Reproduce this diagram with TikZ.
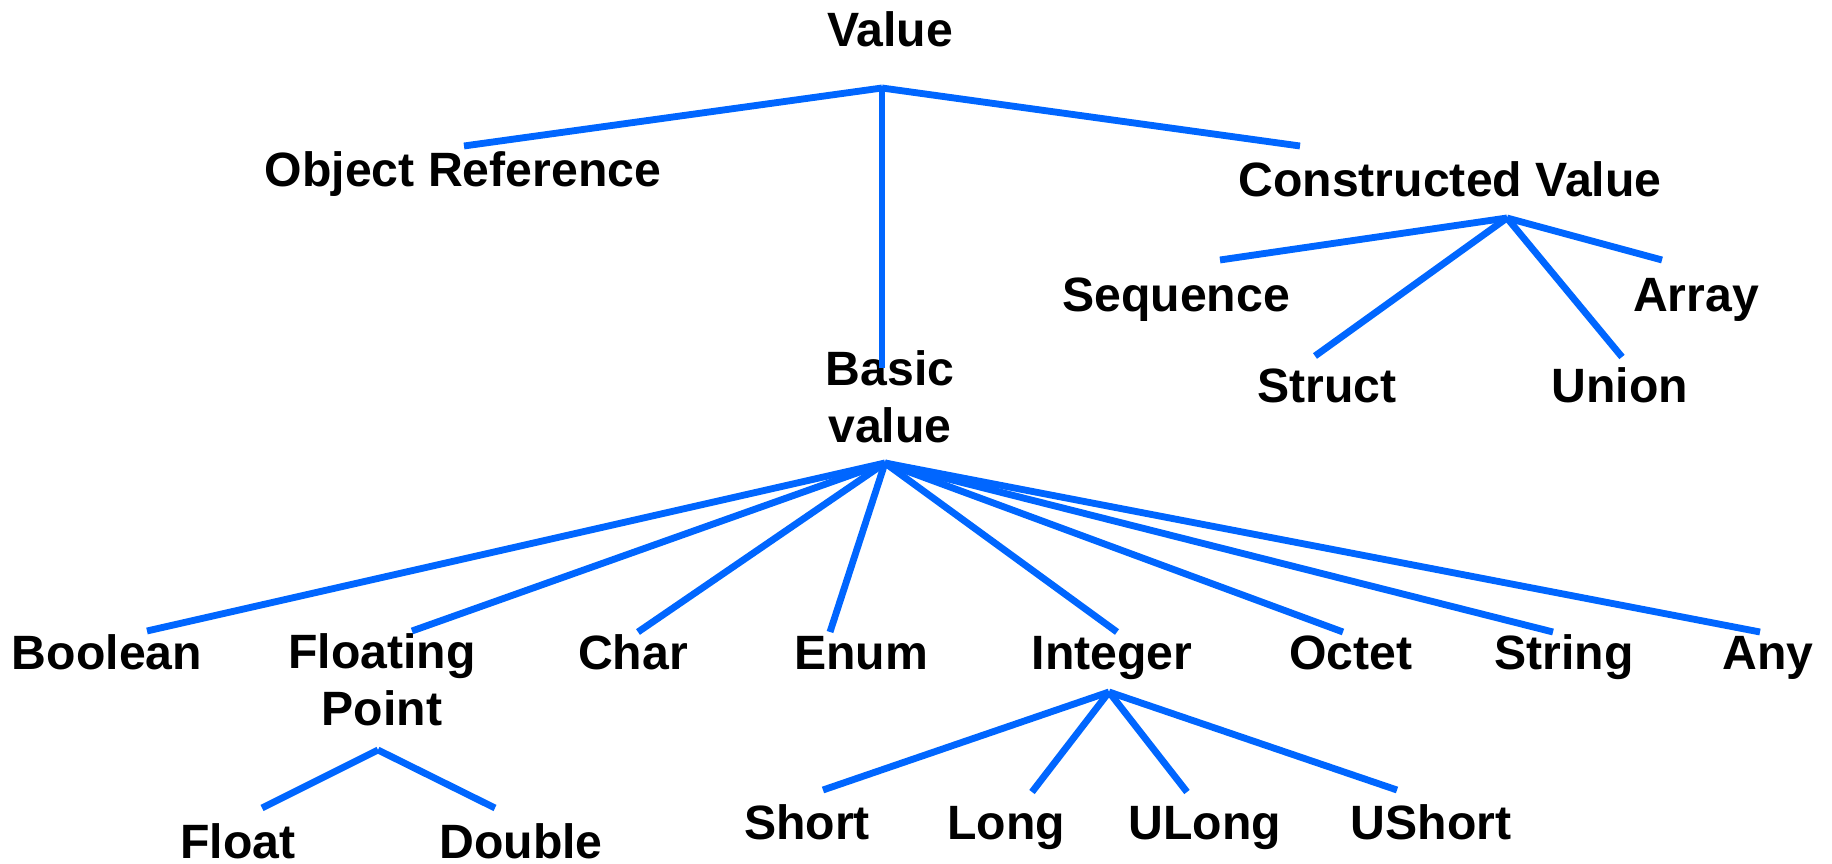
\documentclass[tikz,border=0pt]{standalone}
\usepackage{fontspec}
\setmainfont{Liberation Sans}
\definecolor{linkblue}{HTML}{0066FF}
\begin{document}
\begin{tikzpicture}[x=0.01cm,y=-0.01cm,
  lbl/.style={font=\bfseries\fontsize{13.7}{16.3}\selectfont, text=black, inner sep=0pt, align=center},
  one/.style={lbl, anchor=base},
  link/.style={draw=linkblue, line width=1.95pt}]
\useasboundingbox (0,0) rectangle (1832,864);

% labels (single-line ones placed by their baseline)
\node[one] (value) at (890,47) {Value};
\node[one] (objref) at (463,187) {Object Reference};
\node[one] (constr) at (1450,197) {Constructed Value};
\node[lbl] (basic) at (890,397) {Basic\\value};
\node[one] (seq) at (1176,312) {Sequence};
\node[one] (array) at (1696,312) {Array};
\node[one] (struct) at (1327,403) {Struct};
\node[one] (union) at (1620,403) {Union};
\node[one] (bool) at (107,670) {Boolean};
\node[lbl] (fp) at (382,680) {Floating\\Point};
\node[one] (char) at (633,670) {Char};
\node[one] (enum) at (861,670) {Enum};
\node[one] (int) at (1112,670) {Integer};
\node[one] (octet) at (1351,670) {Octet};
\node[one] (string) at (1564,670) {String};
\node[one] (any) at (1768,670) {Any};
\node[one] (float) at (238,859) {Float};
\node[one] (double) at (521,859) {Double};
\node[one] (short) at (807,840) {Short};
\node[one] (long) at (1006,840) {Long};
\node[one] (ulong) at (1205,840) {ULong};
\node[one] (ushort) at (1431,840) {UShort};

% branch points
\coordinate (vJ) at (882,88);
\coordinate (cJ) at (1507,218);
\coordinate (bJ) at (885,463);
\coordinate (fJ) at (378,750);
\coordinate (iJ) at (1109,692);

% branch ends
\coordinate (objrefE) at (464,146);
\coordinate (constrE) at (1300,146);
\coordinate (basicE) at (882,368);
\coordinate (seqE) at (1220,260);
\coordinate (arrayE) at (1662,260);
\coordinate (structE) at (1315,356);
\coordinate (unionE) at (1622,357);
\coordinate (boolE) at (147,631);
\coordinate (fpE) at (412,631);
\coordinate (charE) at (638,632);
\coordinate (enumE) at (830,632);
\coordinate (intE) at (1117,632);
\coordinate (octetE) at (1343,632);
\coordinate (stringE) at (1553,632);
\coordinate (anyE) at (1760,632);
\coordinate (floatE) at (262,808);
\coordinate (doubleE) at (495,808);
\coordinate (shortE) at (823,790);
\coordinate (longE) at (1032,792);
\coordinate (ulongE) at (1187,792);
\coordinate (ushortE) at (1397,790);

% connectors
\foreach \e in {objrefE,constrE,basicE} \draw[link] (vJ) -- (\e);
\foreach \e in {seqE,arrayE,structE,unionE} \draw[link] (cJ) -- (\e);
\foreach \e in {boolE,fpE,charE,enumE,intE,octetE,stringE,anyE} \draw[link] (bJ) -- (\e);
\foreach \e in {floatE,doubleE} \draw[link] (fJ) -- (\e);
\foreach \e in {shortE,longE,ulongE,ushortE} \draw[link] (iJ) -- (\e);
\end{tikzpicture}
\end{document}
